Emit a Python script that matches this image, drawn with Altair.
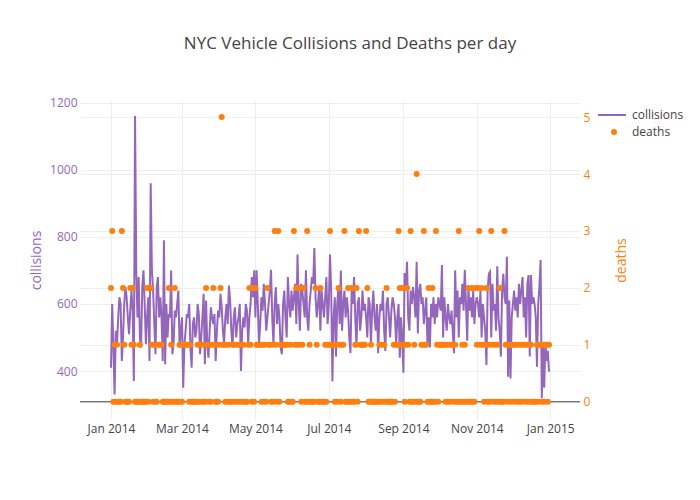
import altair as alt
import pandas as pd

# ---- data (daily values for 2014) ----
collisions_jan = [410, 600, 470, 330, 520, 480, 560, 620, 600, 430, 500, 600, 650, 620, 560, 510,
                  580, 640, 580, 370, 1160, 700, 560, 680, 500, 470, 650, 700, 600, 480, 560]
collisions_feb = [620, 430, 960, 700, 640, 540, 450, 650, 680, 560, 620, 560, 430, 790, 420, 600,
                  500, 570, 560, 700, 450, 480, 580, 560, 600, 640, 470, 520]
collisions_mar = [560, 350, 480, 520, 570, 560, 600, 470, 410, 540, 560, 500, 520, 600, 570, 450,
                  500, 560, 630, 420, 610, 480, 440, 520, 590, 560, 540, 570, 430, 520, 580]
collisions_apr = [560, 630, 590, 520, 480, 560, 600, 540, 655, 610, 520, 470, 560, 590, 500, 540,
                  560, 600, 400, 520, 560, 530, 600, 580, 480, 560, 600, 680, 620, 700]
collisions_may = [560, 700, 600, 480, 540, 620, 580, 660, 600, 520, 560, 600, 640, 702, 560, 480,
                  600, 650, 540, 600, 560, 470, 450, 600, 640, 560, 500, 680, 600, 560, 640]
collisions_jun = [580, 620, 660, 540, 747, 600, 520, 660, 640, 600, 560, 700, 560, 520, 600, 640,
                  680, 660, 767, 620, 560, 600, 650, 520, 640, 600, 560, 620, 680, 540]
collisions_jul = [600, 747, 640, 369, 560, 620, 443, 600, 650, 540, 700, 520, 600, 640, 560, 620,
                  580, 500, 453, 640, 600, 680, 560, 470, 600, 620, 520, 560, 640, 580, 600]
collisions_aug = [560, 500, 620, 600, 480, 580, 640, 560, 520, 600, 453, 560, 600, 580, 640, 520,
                  460, 600, 620, 560, 500, 580, 620, 600, 560, 480, 560, 600, 440, 560, 500]
collisions_sep = [395, 692, 640, 726, 560, 520, 640, 600, 650, 620, 560, 726, 512, 640, 660, 600,
                  620, 540, 580, 620, 480, 560, 470, 600, 560, 620, 540, 600, 560, 620]
collisions_oct = [600, 580, 716, 500, 620, 560, 520, 600, 560, 540, 580, 520, 453, 700, 560, 640,
                  500, 620, 600, 660, 580, 702, 600, 490, 650, 580, 620, 560, 640, 540, 600]
collisions_nov = [620, 600, 560, 640, 500, 600, 560, 520, 418, 640, 690, 696, 500, 660, 580, 600,
                  520, 712, 560, 520, 443, 640, 690, 620, 600, 741, 383, 610, 378, 560]
collisions_dec = [600, 640, 580, 620, 560, 660, 600, 640, 680, 560, 620, 500, 660, 686, 443, 686,
                  600, 620, 600, 560, 413, 600, 650, 731, 319, 475, 350, 484, 430, 460, 398]

deaths_jan = [2, 3, 0, 1, 0, 1, 0, 0, 0, 3, 2, 1, 0, 0, 0, 0, 2, 1, 2, 1, 0, 0, 0, 0, 1, 0, 0, 0, 0, 0, 2]
deaths_feb = [0, 2, 2, 1, 0, 1, 0, 0, 1, 1, 1, 1, 0, 0, 0, 0, 0, 2, 0, 1, 0, 0, 2, 0, 0, 0, 1, 0]
deaths_mar = [0, 1, 1, 1, 1, 1, 0, 1, 0, 0, 0, 0, 0, 1, 0, 1, 0, 1, 0, 0, 2, 1, 0, 1, 0, 1, 2, 1, 0, 0, 0]
deaths_apr = [1, 2, 5, 1, 1, 0, 1, 0, 1, 0, 0, 0, 1, 0, 1, 0, 1, 0, 1, 0, 1, 0, 0, 0, 1, 2, 1, 0, 2, 0]
deaths_may = [2, 1, 1, 1, 1, 0, 1, 0, 1, 0, 2, 1, 1, 0, 1, 0, 3, 1, 0, 3, 0, 1, 1, 1, 1, 1, 1, 0, 0, 1, 0]
deaths_jun = [0, 3, 1, 2, 1, 2, 1, 0, 1, 2, 0, 0, 3, 0, 1, 0, 0, 0, 0, 2, 1, 0, 0, 2, 0, 0, 0, 1, 0, 1]
deaths_jul = [1, 3, 1, 1, 1, 0, 1, 0, 2, 1, 0, 1, 1, 3, 0, 0, 2, 0, 0, 2, 0, 0, 1, 2, 0, 3, 1, 1, 1, 1, 1]
deaths_aug = [3, 2, 0, 0, 1, 0, 0, 0, 0, 0, 0, 1, 0, 1, 0, 1, 0, 2, 0, 0, 0, 0, 0, 1, 0, 1, 1, 3, 2, 1, 2]
deaths_sep = [1, 0, 1, 2, 1, 0, 3, 0, 0, 1, 0, 4, 0, 0, 0, 1, 1, 3, 1, 1, 0, 2, 0, 0, 2, 0, 0, 3, 1, 0]
deaths_oct = [1, 1, 1, 1, 1, 0, 1, 0, 1, 0, 1, 1, 0, 1, 0, 0, 3, 0, 0, 1, 0, 1, 0, 0, 2, 0, 0, 2, 0, 0, 2]
deaths_nov = [1, 2, 3, 1, 2, 1, 0, 1, 2, 0, 1, 0, 3, 1, 0, 1, 0, 1, 0, 2, 0, 0, 0, 3, 1, 0, 1, 1, 0, 1]
deaths_dec = [0, 1, 1, 0, 1, 0, 1, 0, 1, 1, 0, 1, 0, 1, 0, 1, 0, 0, 0, 0, 1, 0, 1, 1, 0, 1, 0, 1, 1, 0, 1]

collisions = (collisions_jan + collisions_feb + collisions_mar + collisions_apr + collisions_may +
              collisions_jun + collisions_jul + collisions_aug + collisions_sep + collisions_oct +
              collisions_nov + collisions_dec)
deaths = (deaths_jan + deaths_feb + deaths_mar + deaths_apr + deaths_may + deaths_jun +
          deaths_jul + deaths_aug + deaths_sep + deaths_oct + deaths_nov + deaths_dec)

dates = pd.date_range("2014-01-01", "2014-12-31", freq="D").strftime("%Y-%m-%dT00:00:00")

df = pd.DataFrame({
    "date": list(dates),
    "collisions": collisions,
    "deaths": deaths,
    "s1": "collisions",
    "s2": "deaths",
})
zero_df = pd.DataFrame({"z": [0]})

PURPLE = "#9467bd"
ORANGE = "#ff7f0e"
FONT = "Open Sans"

x_scale = alt.Scale(
    domain=[alt.DateTime(year=2013, month=12, date=6, hours=6),
            alt.DateTime(year=2015, month=1, date=25, hours=18)],
    nice=False,
)
x_axis = alt.Axis(
    values=[alt.DateTime(year=2014, month=m, date=1) for m in (1, 3, 5, 7, 9, 11)]
    + [alt.DateTime(year=2015, month=1, date=1)],
    format="%b %Y", title=None, grid=True, gridColor="#eee", domain=False, ticks=False,
    labelColor="#444", labelFontSize=12, labelPadding=3, labelFont=FONT,
)

y1_scale = alt.Scale(domain=[254, 1208], nice=False, zero=False)
y2_scale = alt.Scale(domain=[-0.32, 5.30], nice=False, zero=False)

y2_axis = alt.Axis(orient="right", values=[0, 1, 2, 3, 4, 5], title="deaths", format="d",
                   titleColor=ORANGE, labelColor=ORANGE, titleFontSize=14,
                   titleFontWeight="normal", titleFont=FONT, labelFont=FONT,
                   labelFontSize=12, grid=True, gridColor="#eee", domain=False,
                   ticks=False, labelPadding=3, titlePadding=25, titleAngle=270,
                   titleBaseline="top")

line = alt.Chart(df).mark_line(strokeWidth=2, clip=True).encode(
    x=alt.X("date:T", scale=x_scale, axis=x_axis),
    y=alt.Y("collisions:Q", scale=y1_scale,
            axis=alt.Axis(orient="left", values=[400, 600, 800, 1000, 1200], title="collisions",
                          format="d", titleColor=PURPLE, labelColor=PURPLE, titleFontSize=14,
                          titleFontWeight="normal", titleFont=FONT, labelFont=FONT,
                          labelFontSize=12, grid=True, gridColor="#eee", domain=False,
                          ticks=False, labelPadding=3, titlePadding=6)),
    stroke=alt.Stroke("s1:N", scale=alt.Scale(domain=["collisions"], range=[PURPLE]),
                      legend=alt.Legend(title=None, orient="none", legendX=517, legendY=0,
                                        symbolType="stroke", symbolSize=784, symbolStrokeWidth=2,
                                        labelFont=FONT, labelFontSize=12, labelColor="#444",
                                        labelOffset=5)),
)

zero_rule = alt.Chart(zero_df).mark_rule(color="#444", strokeWidth=1).encode(
    y=alt.Y("z:Q", scale=y2_scale, axis=y2_axis),
)

points = alt.Chart(df).mark_circle(size=36, opacity=1, clip=True).encode(
    x=alt.X("date:T", scale=x_scale, axis=x_axis),
    y=alt.Y("deaths:Q", scale=y2_scale, axis=y2_axis),
    fill=alt.Fill("s2:N", scale=alt.Scale(domain=["deaths"], range=[ORANGE]),
                  legend=alt.Legend(title=None, orient="none", legendX=528, legendY=26,
                                    symbolType="circle", symbolSize=36, symbolStrokeWidth=0,
                                    labelFont=FONT, labelFontSize=12, labelColor="#444",
                                    labelOffset=12)),
)

chart = alt.layer(line, alt.layer(zero_rule, points)).resolve_scale(
    y="independent"
).properties(
    width=500,
    height=320,
    title=alt.Title("NYC Vehicle Collisions and Deaths per day", fontSize=17, font=FONT,
                    fontWeight="normal", color="#444", anchor="middle", dx=20, offset=44),
    autosize=alt.AutoSizeParams(type="none"),
    padding={"left": 72, "top": 92, "right": 112, "bottom": 72},
).configure_view(stroke=None)

chart.save("out.html", embed_options={"renderer": "svg", "actions": False})
